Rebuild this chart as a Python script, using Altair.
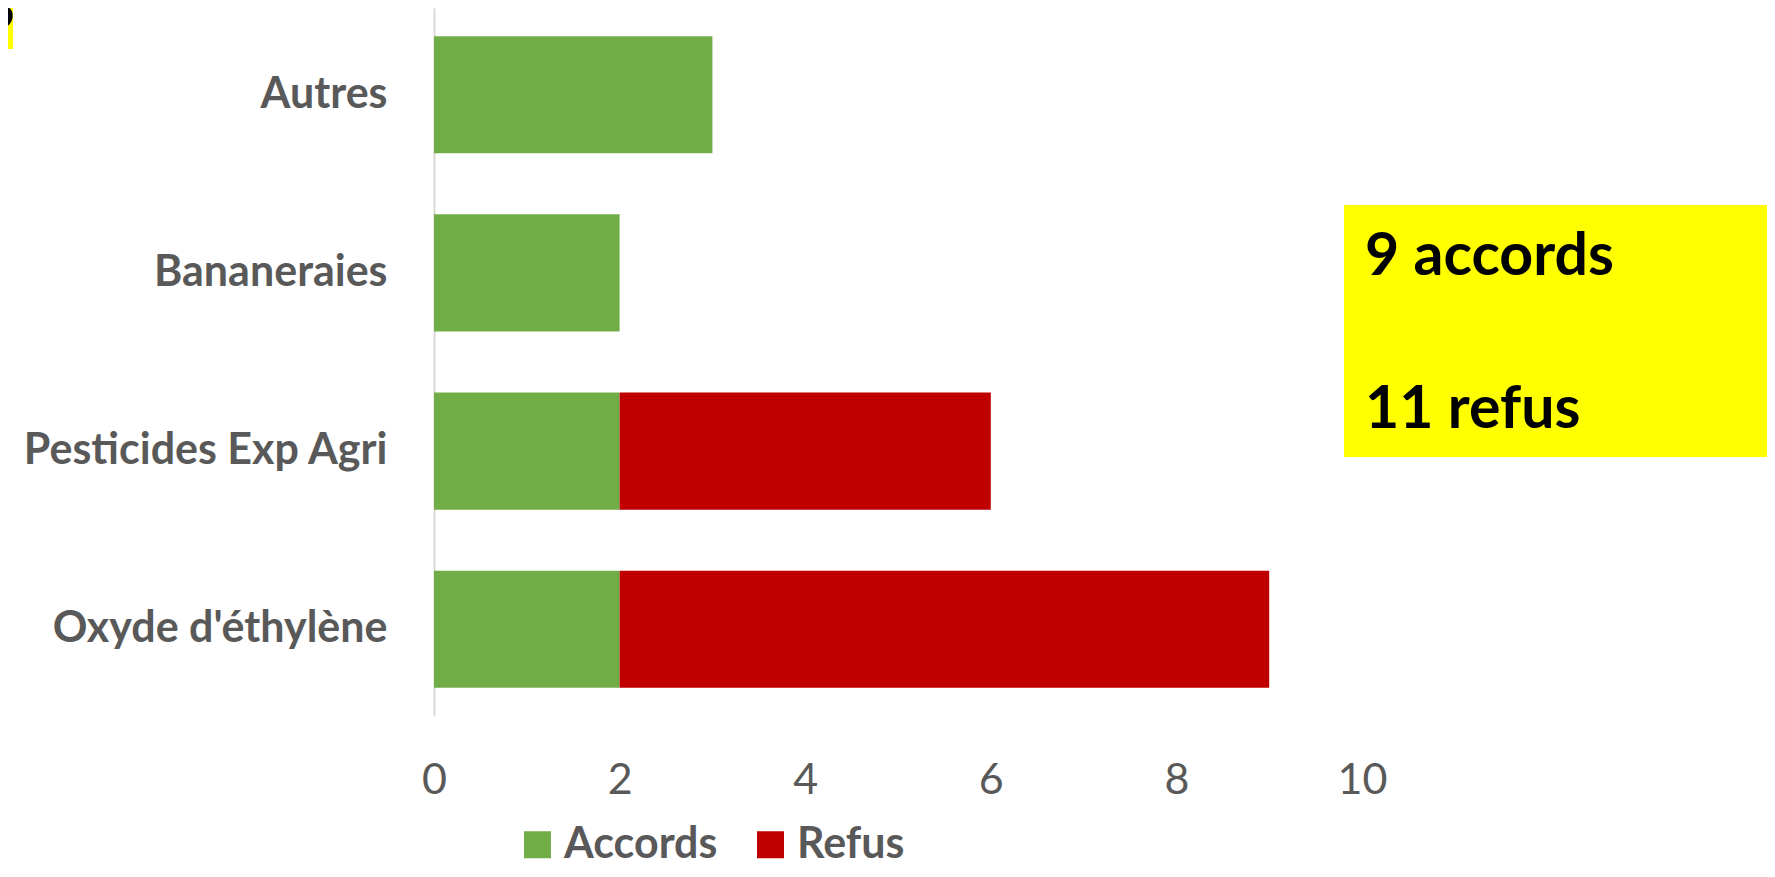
import altair as alt
import pandas as pd

# ---- data ----
categories = ["Autres", "Bananeraies", "Pesticides Exp Agri", "Oxyde d'éthylène"]
accords = [3, 2, 2, 2]
refus = [0, 0, 4, 7]
series = ["Accords", "Refus"]
colors = ["#70AD47", "#C00000"]
x_ticks = [0, 2, 4, 6, 8, 10]
box_lines = ["9 accords", "11 refus"]
corner_text = "S"

rows = []
for c, a, r in zip(categories, accords, refus):
    rows.append({"cat": c, "status": series[0], "value": a, "ord": 0})
    rows.append({"cat": c, "status": series[1], "value": r, "ord": 1})
df = pd.DataFrame(rows)

FONT = "Lato"
GRAY = "#595959"
one = pd.DataFrame({"a": [0]})

bars = alt.Chart(df).mark_bar().encode(
    y=alt.Y(
        "cat:N",
        sort=categories,
        scale=alt.Scale(paddingInner=0.343, paddingOuter=0.158),
        axis=alt.Axis(
            title=None, ticks=False, grid=False, domain=True,
            domainColor="#D9D9D9", domainWidth=2,
            labelFont=FONT, labelFontWeight="bold", labelFontSize=43,
            labelColor=GRAY, labelPadding=47, labelLimit=700,
        ),
    ),
    x=alt.X(
        "value:Q",
        stack="zero",
        scale=alt.Scale(domain=[0, 10], nice=False),
        axis=alt.Axis(
            title=None, values=x_ticks, ticks=False, domain=False, grid=False,
            labelFont=FONT, labelFontSize=43, labelColor=GRAY,
            labelFontWeight="normal", labelBaseline="alphabetic",
            labelPadding=77, labelFlush=False, labelOverlap=False, format="d",
        ),
    ),
    color=alt.Color(
        "status:N",
        scale=alt.Scale(domain=series, range=colors),
        legend=alt.Legend(
            title=None, orient="none", legendX=82, legendY=815,
            direction="horizontal", symbolType="square", symbolSize=729,
            symbolStrokeWidth=0, symbolOpacity=1, padding=0,
            labelFont=FONT, labelFontWeight="bold", labelFontSize=43,
            labelColor=GRAY, labelOffset=5, columnPadding=31, labelLimit=400,
        ),
    ),
    order=alt.Order("ord:Q"),
)

box = alt.Chart(one).mark_rect(color="#FFFF00").encode(
    x=alt.value(910), x2=alt.value(1360), y=alt.value(197), y2=alt.value(449)
)
t1 = alt.Chart(one).mark_text(
    align="left", baseline="alphabetic", font=FONT, fontWeight="bold",
    fontSize=59, color="#000000"
).encode(x=alt.value(931), y=alt.value(267), text=alt.value(box_lines[0]))
t2 = alt.Chart(one).mark_text(
    align="left", baseline="alphabetic", font=FONT, fontWeight="bold",
    fontSize=59, color="#000000"
).encode(x=alt.value(931), y=alt.value(420), text=alt.value(box_lines[1]))

corner = alt.Chart(one).mark_rect(color="#FFFF00").encode(
    x=alt.value(-440), x2=alt.value(-421), y=alt.value(-20), y2=alt.value(41)
)
corner_t = alt.Chart(one).mark_text(
    align="right", baseline="alphabetic", font=FONT, fontWeight="bold",
    fontSize=60, color="#000000"
).encode(x=alt.value(-419), y=alt.value(21), text=alt.value(corner_text))

chart = alt.layer(corner, corner_t, box, t1, t2, bars).properties(
    width=928,
    height=708,
    autosize=alt.AutoSizeParams(type="none"),
    padding={"left": 426, "top": 0, "right": 405, "bottom": 153},
    background="white",
).configure_view(stroke=None)

chart.save("out.html", embed_options={"renderer": "svg", "actions": False})
